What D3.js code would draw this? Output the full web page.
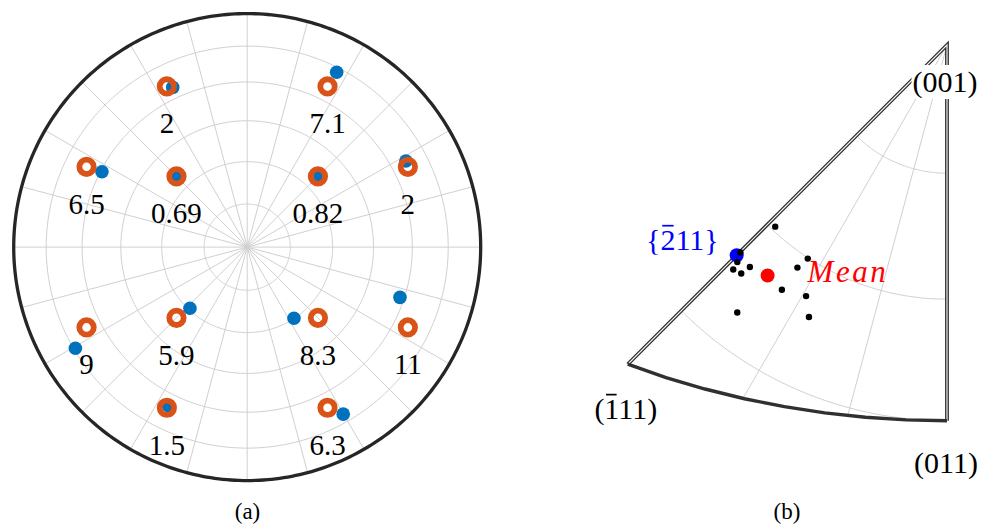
<!DOCTYPE html>
<html><head><meta charset="utf-8">
<script src="https://cdn.jsdelivr.net/npm/d3@7"></script>
<style>body{margin:0;background:#fff} svg{display:block}</style>
</head><body><script>
// ---------- Panel (a): {112} poles, ideal vs measured ----------
const idealPoles = [[-1,2,1],[1,2,1],[-2,1,1],[-1,1,2],[1,1,2],[2,1,1],
                    [-2,-1,1],[-1,-1,2],[1,-1,2],[2,-1,1],[-1,-2,1],[1,-2,1]];
const measuredAzimuth = [115.0,62.9,152.6,135.6,44.3,28.5,210.5,226.9,303.3,341.8,243.6,299.9];
const measuredTilt    = [64.5,73.0,59.4,35.7,35.9,66.3,74.3,29.4,29.9,58.3,64.9,71.4];
const deviationLabels = ["2","7.1","6.5","0.69","0.82","2","9","5.9","8.3","11","1.5","6.3"];
const gridTiltsA = [15,30,45,60,75];
const gridAzimuthsA = [0,15,30,45,60,75,90,105,120,135,150,165,180,195,210,225,240,255,270,285,300,315,330,345];

// ---------- Panel (b): inverse pole figure ----------
const ipfAzimuth = [-43.4,-44.9,-44.0,-43.6,-42.0,-41.6,-33.1,-33.9,-34.0,-29.3,-38.1,-26.9];
const ipfTilt    = [29.5,34.7,35.8,36.8,36.5,35.2,30.1,31.7,35.0,34.1,40.5,36.2];
const meanDir = [-37.9, 34.6];
const refDir  = [-45, 35.26];
const cornerNames = ["(001)","(011)","(111)"];   // bar index given separately
const cornerBar   = [-1, -1, 1];
const cornerDirs  = [[0,0],[0,45],[-45,54.74]];
const refName = "{211}", refBar = 1;
const gridTiltsB = [15,30,45];
const gridAzimuthsB = [-15,-30];

const W = 984, H = 529;
const svg = d3.select("body").append("svg").attr("width", W).attr("height", H)
  .style("font-family", "'Liberation Serif', 'DejaVu Serif', serif");

const GRID = "#d0d0d0";

// ===== Panel (a) =====
const projA = d3.geoAzimuthalEqualArea().rotate([0,-90]).scale(165.1).translate([247.2,247.1]);
const pathA = d3.geoPath(projA);
const geoA = (az, tilt) => [az + 90, 90 - tilt];
const ring = tilt => ({type:"LineString", coordinates: d3.range(0, 360.5, 1).map(l => [l, 90 - tilt])});

const gA = svg.append("g");
gA.selectAll("path.par").data(gridTiltsA).join("path").attr("class","par")
  .attr("d", t => pathA(ring(t))).attr("fill","none").attr("stroke",GRID).attr("stroke-width",1);
gA.selectAll("path.mer").data(gridAzimuthsA).join("path").attr("class","mer")
  .attr("d", a => pathA({type:"LineString", coordinates:[geoA(a,90), geoA(a,0.0001)]}))
  .attr("fill","none").attr("stroke",GRID).attr("stroke-width",1);
gA.append("path").attr("d", pathA(ring(90))).attr("fill","none")
  .attr("stroke","#262626").attr("stroke-width",3.3);

const idealGeo = idealPoles.map(([h,k,l]) => {
  const n = Math.hypot(h,k,l);
  return geoA(Math.atan2(k,h)*180/Math.PI, Math.acos(l/n)*180/Math.PI);
});
const measGeo = measuredAzimuth.map((a,i) => geoA(a, measuredTilt[i]));

gA.selectAll("circle.meas").data(measGeo).join("circle").attr("class","meas")
  .attr("cx", d => projA(d)[0]).attr("cy", d => projA(d)[1]).attr("r", 6.8).attr("fill","#0072BD");
gA.selectAll("circle.ideal").data(idealGeo).join("circle").attr("class","ideal")
  .attr("cx", d => projA(d)[0]).attr("cy", d => projA(d)[1]).attr("r", 7.2)
  .attr("fill","none").attr("stroke","#D95319").attr("stroke-width",5.8);
gA.selectAll("text.dev").data(idealGeo).join("text").attr("class","dev")
  .attr("x", d => projA(d)[0]).attr("y", d => projA(d)[1] + 47)
  .attr("text-anchor","middle").attr("font-size",29).attr("fill","#000")
  .text((d,i) => deviationLabels[i]);

svg.append("text").attr("x",247.5).attr("y",519).attr("text-anchor","middle")
  .attr("font-size",23).text("(a)");

// ===== Panel (b) =====
const projB = d3.geoAzimuthalEqualArea().rotate([0,-90]).scale(491).translate([947,45]);
const pathB = d3.geoPath(projB);
const geoB = ([az, tilt]) => [az, 90 - tilt];
const edgeTilt = az => Math.acos(Math.cos(az*Math.PI/180)/Math.sqrt(1+Math.cos(az*Math.PI/180)**2))*180/Math.PI;

const gB = svg.append("g");
gB.selectAll("path.arc").data(gridTiltsB).join("path").attr("class","arc")
  .attr("d", t => pathB({type:"LineString", coordinates: d3.range(-45, 0.01, 0.5).map(a => geoB([a,t]))}))
  .attr("fill","none").attr("stroke",GRID).attr("stroke-width",1);
gB.selectAll("path.rad").data(gridAzimuthsB).join("path").attr("class","rad")
  .attr("d", a => pathB({type:"LineString", coordinates:[geoB([a,0.0001]), geoB([a, edgeTilt(a)])]}))
  .attr("fill","none").attr("stroke",GRID).attr("stroke-width",1);

// straight edges (double-line look)
const straight = {type:"LineString", coordinates:[geoB(cornerDirs[1]), geoB([0,0.0001]), geoB(cornerDirs[2])]};
gB.append("path").attr("d", pathB(straight)).attr("fill","none").attr("stroke","#2e2e2e").attr("stroke-width",3.8).attr("stroke-linejoin","miter");
gB.append("path").attr("d", pathB(straight)).attr("fill","none").attr("stroke","#eeeeee").attr("stroke-width",1.2);
// curved edge
gB.append("path").attr("d", pathB({type:"LineString", coordinates:[geoB(cornerDirs[2]), geoB(cornerDirs[1])]}))
  .attr("fill","none").attr("stroke","#303030").attr("stroke-width",3.4);

// points
const pRef = projB(geoB(refDir));
gB.append("circle").attr("cx",pRef[0]).attr("cy",pRef[1]).attr("r",7).attr("fill","#0000FF");
gB.selectAll("circle.ipf").data(ipfAzimuth.map((a,i)=>geoB([a, ipfTilt[i]]))).join("circle").attr("class","ipf")
  .attr("cx", d => projB(d)[0]).attr("cy", d => projB(d)[1]).attr("r",3.2).attr("fill","#000");
const pMean = projB(geoB(meanDir));
gB.append("circle").attr("cx",pMean[0]).attr("cy",pMean[1]).attr("r",7).attr("fill","#FF0000");

// labels with an overbar on one character
function barText(g, x, y, str, barIdx, opts) {
  const color = opts.color || "#000";
  const t = g.append("text").attr("x",x).attr("y",y).attr("font-size",opts.size)
    .attr("text-anchor",opts.anchor).attr("fill",color).text(str);
  if (barIdx >= 0) {
    const ext = t.node().getExtentOfChar(barIdx);
    g.append("line").attr("x1", ext.x + ext.width*0.12).attr("x2", ext.x + ext.width*0.88)
      .attr("y1", y - opts.size*0.82).attr("y2", y - opts.size*0.82)
      .attr("stroke", color).attr("stroke-width", 1.7);
  }
  return t;
}
const labelOffsets = [[-2,47],[-1,52],[-2,55]];
cornerDirs.forEach((d,i) => {
  const p = projB(geoB(i===0 ? [0,0.0001] : d));
  const t = barText(gB, p[0]+labelOffsets[i][0], p[1]+labelOffsets[i][1], cornerNames[i], cornerBar[i], {size:30, anchor:"middle"});
  const bb = t.node().getBBox();
  gB.insert("rect", () => t.node()).attr("x",bb.x-1).attr("y",bb.y).attr("width",bb.width+2).attr("height",bb.height)
    .attr("fill","#fff");
});
barText(gB, pRef[0]-18, pRef[1]-5, refName, refBar, {size:30, anchor:"end", color:"#0000FF"});
gB.append("text").attr("x",pMean[0]+40).attr("y",pMean[1]+7).attr("font-size",31).attr("font-style","italic")
  .attr("letter-spacing",2.5).attr("fill","#FF0000").text("Mean");

svg.append("text").attr("x",787).attr("y",519).attr("text-anchor","middle")
  .attr("font-size",23).text("(b)");
</script></body></html>
